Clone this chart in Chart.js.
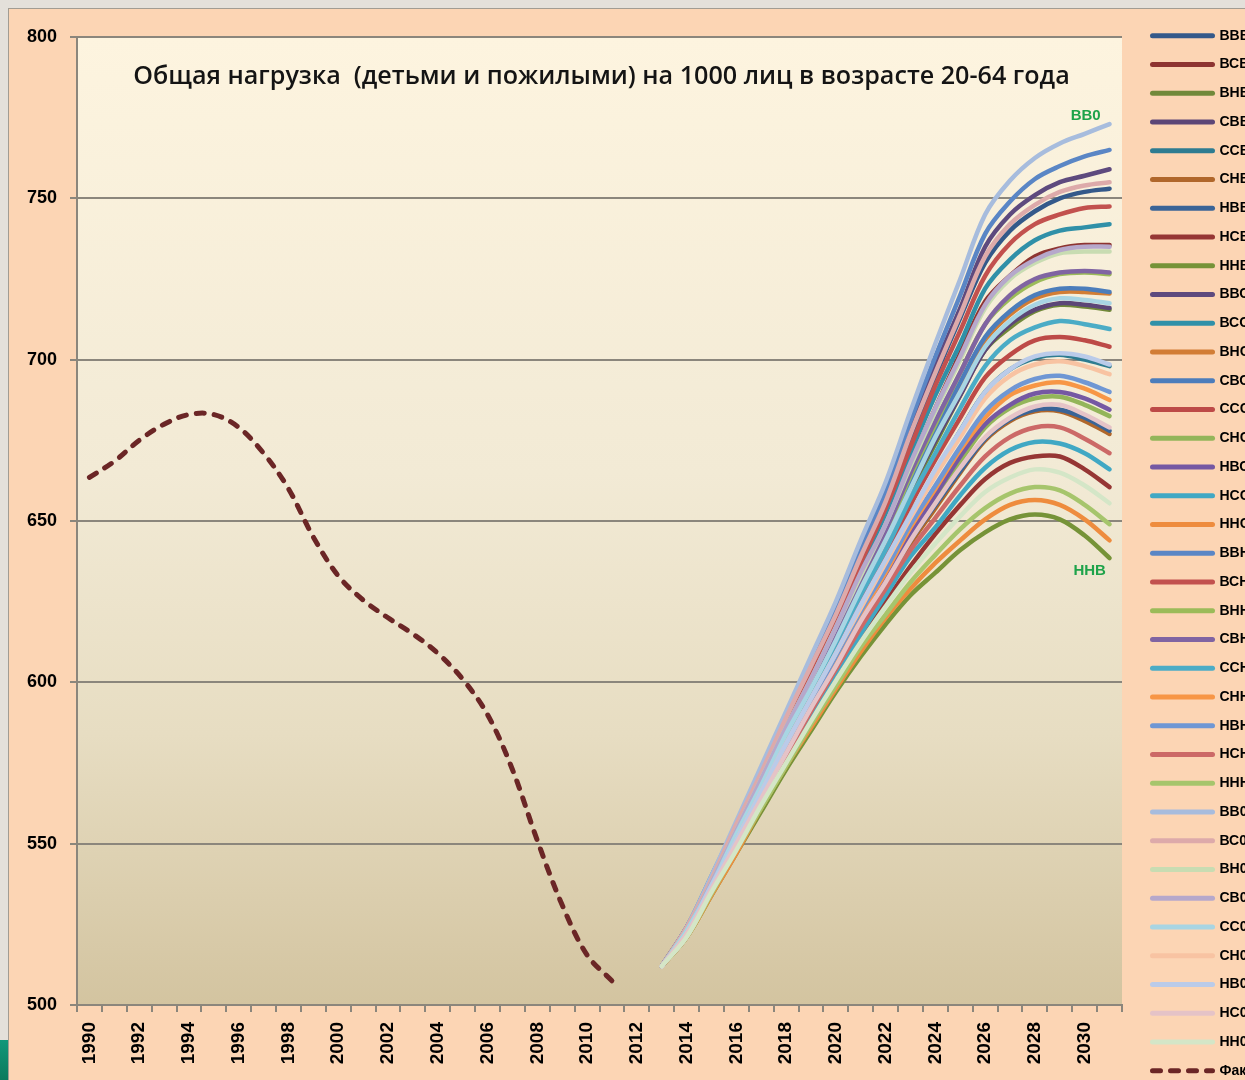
<!DOCTYPE html>
<html><head><meta charset="utf-8">
<script src="https://cdn.jsdelivr.net/npm/chart.js@4"></script>
<style>
html,body{margin:0;padding:0;width:1245px;height:1080px;overflow:hidden;background:#E4E0DA;}
#frame{position:absolute;left:8px;top:8px;width:1300px;height:1100px;background:#FCD5B4;border-left:1px solid #A29C92;border-top:1px solid #A29C92;}
#strip{position:absolute;left:0;top:1040px;width:8px;height:40px;background:linear-gradient(#12977A,#0B7A5C);}
canvas{display:block;}
</style></head>
<body><div id="frame"><canvas id="c" width="1300" height="1100"></canvas></div><div id="strip"></div>
<script>
const years = ['1990','1991','1992','1993','1994','1995','1996','1997','1998','1999','2000','2001','2002','2003','2004','2005','2006','2007','2008','2009','2010','2011','2012','2013','2014','2015','2016','2017','2018','2019','2020','2021','2022','2023','2024','2025','2026','2027','2028','2029','2030','2031'];
const yTicks = {min: 500, max: 800, step: 50};
const titleText = 'Общая нагрузка  (детьми и пожилыми) на 1000 лиц в возрасте 20-64 года';

// Факт, 1990-2011
const factName = 'Факт';
const fact = [663.5,668.5,675,680,683,683,679,671,660,645,633,625.5,620,615,609,601,590,573,551,531,515.5,507.5];

// Прогноз, 2013-2031
const projStartYear = '2013';
const vvv = [512,524,539,556,572,588,605,621,639,656,676,695,713,730,740,746,750,752,753];
const vsv = [512,523,538,554,570,586,602,617,634,650,668,685,702,718,726,732,734.5,735.5,735.5];
const vnv = [512,522,537,552,568,583,598,613,628,643,659,674,689,703,710,715,717,716.5,715.5];
const svv = [512,523,537,553,568,583,598,613,629,643,660,675,689,703,711,715.5,717.5,717,716];
const ssv = [512,522,536,551,566,580,595,609,623,637,652,665,678,690,697,700.5,701.5,700,698];
const snv = [512,522,535,550,564,578,591,605,618,630,643,654,665,675,681,684,684,681,677];
const nvv = [512,522,536,550,564,578,592,605,619,631,644,655,665.5,675.5,681.5,684.5,684.5,682,678];
const nsv = [512,521,535,549,562,576,589,602,614,625,636,646,655,663,668,670,670,666,660.5];
const nnv = [512,521,534,547,560,573,585,597,608,618,627,634,641,646.5,650.5,652,650.5,645.5,638.5];
const vvs = [512,524,539,556,573,589,606,622,640,657,678,698,716,735,745,751,755,757,759];
const vss = [512,523,539,555,571,587,603,619,636,652,671,689,705,722,731,737,740,741,742];
const vns = [512,523,537,553,568,584,599,614,630,644,661,677,692,706,714,719,721,721,720.5];
const svs = [512,523,538,553,569,584,599,614,630,645,662,678,693,707,715,720,722,722,721];
const sss = [512,522,537,552,567,582,596,611,625,639,655,669,682,694.5,701.5,706,707,706,704];
const sns = [512,522,536,550,565,579,592,606,620,632,646,657,668.5,679,685,688,688.5,686,682.5];
const nvs = [512,522,536,550,565,579,593,607,620,633,646,658,670,680,686,689.5,690,688,684.5];
const nss = [512,522,535,549,563,577,590,603,615,627,639,648,658,666.5,672,674.5,674,671,666];
const nns = [512,521,534,547,561,574,586,598,609.5,620,629,637,644,650.5,655,656.5,655,650.5,644];
const vvn = [512,524,540,556,573,590,607,623,642,659,681,701,720,739,749,756,760,763,765];
const vsn = [512,523,539,555,571,588,604,620,637,654,673,692,709,726,736,742,745,747,747.5];
const vnn = [512,523,538,553,569,584,600,615,631,646,664,680,696,711,719,724,726.5,727,726.5];
const svn = [512,523,538,554,569,585,600,615,632,647,665,681,696,711,720,725,727,727.5,727];
const ssn = [512,523,537,552,567,582,597,612,627,641,657,671,685,698,706,710,712,711,709.5];
const snn = [512,522,536,551,565,580,593,607,621,634,648,660,672,682,689,692,693,691,687.5];
const nvn = [512,522,536,551,565,580,594,608,622,635,649,661,673,684,690.5,694,695,693,690];
const nsn = [512,522,535,549,563,577,591,604,617,629,641,651,661,670,676,679,679,675.5,671];
const nnn = [512,521,534.5,548,561,574,587,599,611,621,631,639.5,647.5,654,658.5,660.5,659.5,655,649];
const vv0 = [512,524,540,557,574,591,608,625,644,662,684,705,725,745,755.5,762.5,767,770,773];
const vs0 = [512,524,539,556,572,589,605,621,639,656,677,696,714,732,742,748,752,754,755];
const vn0 = [512,523,538,554,570,586,601,617,633,649,667,684,700,716,725,730,733,733.5,733.5];
const sv0 = [512,523,538,554,570,586,601,617,634,649,668,685,701,717,726,731,734,735,735];
const ss0 = [512,523,537,553,568,584,598,613,629,644,660,676,690,704,712,717,719,718.5,717.5];
const sn0 = [512,522,536,551,566,581,595,609,623,637,651,664,676,688,695,698.5,699.5,698,695.5];
const nv0 = [512,522,537,551,566,581,595,609,624,638,652,666,678,690,697,701,702,701,698.5];
const ns0 = [512,522,536,550,564,578,592,605,619,631,644,655.5,666.5,676,682,685.5,686,683,679];
const nn0 = [512,521,535,548,562,575,588,600.5,612.5,623.5,634,643,651.5,659,663.5,666,665,661,655.5];

const seriesNames = ['ВВВ','ВСВ','ВНВ','СВВ','ССВ','СНВ','НВВ','НСВ','ННВ',
                     'ВВС','ВСС','ВНС','СВС','ССС','СНС','НВС','НСС','ННС',
                     'ВВН','ВСН','ВНН','СВН','ССН','СНН','НВН','НСН','ННН',
                     'ВВ0','ВС0','ВН0','СВ0','СС0','СН0','НВ0','НС0','НН0'];
const seriesValues = [vvv,vsv,vnv,svv,ssv,snv,nvv,nsv,nnv,
                      vvs,vss,vns,svs,sss,sns,nvs,nss,nns,
                      vvn,vsn,vnn,svn,ssn,snn,nvn,nsn,nnn,
                      vv0,vs0,vn0,sv0,ss0,sn0,nv0,ns0,nn0];
const seriesColors = ['#34598A','#8E3431','#71893A','#5C4677','#2E7C91','#B0672B','#3A6497','#963634','#769338',
                      '#5E4A7E','#3090A8','#D27D35','#4C7DBB','#BD4A47','#93B55A','#7558A3','#40A8C4','#EE8C3E',
                      '#5A86C5','#C2514E','#9BBB59','#8064A2','#4BACC6','#F79646','#6F97D4','#CC6967','#A6C56C',
                      '#A7BCDD','#DDAAAA','#C8DCB2','#B6A8CB','#A8D5E3','#F8C3A2','#BACBE9','#E5C3C7','#D4E6C7'];
const factColor = '#6B2626';
const notes = [{text:'ВВ0', year:'2030', value:775.5, dx:1}, {text:'ННВ', year:'2030', value:634.5, dx:5}];

const gridColor = '#8B867C';
const startIdx = years.indexOf(projStartYear);

const datasets = seriesNames.map((name, k) => ({
  label: name,
  data: years.map((y, i) => i < startIdx ? null : seriesValues[k][i - startIdx]),
  borderColor: seriesColors[k], backgroundColor: seriesColors[k],
  borderWidth: 4.5, pointRadius: 0, pointHoverRadius: 0, tension: 0.35,
  borderCapStyle: 'round', borderJoinStyle: 'round', fill: false, order: -k
}));
datasets.push({
  label: factName,
  data: years.map((y, i) => i < fact.length ? fact[i] : null),
  borderColor: factColor, backgroundColor: factColor,
  borderWidth: 5, borderDash: [8, 10], borderCapStyle: 'round',
  pointRadius: 0, pointHoverRadius: 0, tension: 0.35, fill: false, order: -100
});

// legend geometry
const legendFont = {family: '"Liberation Sans"', size: 14, weight: 'bold'};
const mctx = document.createElement('canvas').getContext('2d');
mctx.font = 'bold 14px "Liberation Sans"';
const maxTextW = Math.max(...seriesNames.concat([factName]).map(t => mctx.measureText(t).width));
const legendPad = 14.75, legendLine = 60;
const legendLeft = 1128.75;
const legendW = legendPad + legendLine + 7 + maxTextW + 10;
const padRight = 1300 - legendLeft - legendW;

const bgPlugin = {
  id: 'bg',
  beforeDraw(chart) {
    const {ctx, chartArea: a} = chart;
    const g = ctx.createLinearGradient(0, a.top, 0, a.bottom);
    g.addColorStop(0, '#FDF4DF');
    g.addColorStop(0.45, '#F2EAD5');
    g.addColorStop(0.72, '#E7DDC2');
    g.addColorStop(1, '#D3C4A0');
    ctx.save();
    ctx.fillStyle = g;
    ctx.fillRect(a.left, a.top, a.right - a.left, a.bottom - a.top);
    ctx.restore();
  }
};
const textPlugin = {
  id: 'texts',
  afterDraw(chart) {
    const {ctx, chartArea: a, scales} = chart;
    ctx.save();
    ctx.font = '600 24px "Open Sans"';
    const w = ctx.measureText(titleText).width;
    const size = 24 * 937 / w;
    ctx.font = '600 ' + size.toFixed(2) + 'px "Open Sans"';
    ctx.fillStyle = '#141414';
    ctx.textAlign = 'center';
    ctx.textBaseline = 'middle';
    ctx.fillText(titleText, (a.left + a.right) / 2 + 2, a.top + 40);
    ctx.font = 'bold 15px "Liberation Sans"';
    ctx.fillStyle = '#1EA34A';
    notes.forEach(n => {
      ctx.fillText(n.text, scales.x.getPixelForValue(years.indexOf(n.year)) + n.dx, scales.y.getPixelForValue(n.value));
    });
    ctx.restore();
  }
};

new Chart(document.getElementById('c'), {
  type: 'line',
  data: {labels: years, datasets},
  options: {
    responsive: false, animation: false, devicePixelRatio: 1,
    layout: {padding: {left: 18, top: 5, bottom: 5, right: padRight}},
    interaction: {mode: null},
    plugins: {
      title: {display: false},
      tooltip: {enabled: false},
      legend: {
        position: 'right', align: 'start',
        labels: {
          usePointStyle: true, pointStyle: 'line', pointStyleWidth: legendLine,
          padding: legendPad, color: '#000', font: legendFont,
          generateLabels(chart) {
            const items = Chart.defaults.plugins.legend.labels.generateLabels(chart);
            items.forEach(it => {
              const ds = chart.data.datasets[it.datasetIndex];
              it.lineWidth = 5; it.lineDash = ds.borderDash || []; it.lineCap = 'round';
              it.strokeStyle = ds.borderColor; it.pointStyle = 'line';
            });
            items.sort((p, q) => p.datasetIndex - q.datasetIndex);
            return items;
          }
        }
      }
    },
    scales: {
      x: {
        type: 'category', position: 'bottom', offset: true,
        grid: {offset: true, drawOnChartArea: false, drawTicks: true, tickLength: 7, color: gridColor, lineWidth: 2},
        border: {display: true, color: gridColor, width: 2},
        ticks: {autoSkip: false, maxRotation: 90, minRotation: 90, padding: 10, color: '#000',
                font: {family: '"Liberation Sans"', size: 19, weight: 'bold'},
                callback: (v, i) => (i % 2 === 0 ? years[i] : '')},
        afterFit: s => { s.height = 99; }
      },
      y: {
        type: 'linear', position: 'left', min: yTicks.min, max: yTicks.max,
        ticks: {stepSize: yTicks.step, padding: 13, color: '#000', font: {family: '"Liberation Sans"', size: 18, weight: 'bold'}},
        grid: {color: gridColor, lineWidth: 2, tickLength: 7},
        border: {display: true, color: gridColor, width: 2},
        afterFit: s => { s.width = 50; }
      },
      xTop: {
        type: 'category', position: 'top', display: true,
        grid: {display: false}, border: {display: false}, ticks: {display: false},
        afterFit: s => { s.height = 23; }
      },
      yR: {
        type: 'linear', position: 'right', display: true, min: yTicks.min, max: yTicks.max,
        grid: {display: false}, border: {display: false}, ticks: {display: false},
        afterFit: s => { s.width = 15.75; }
      }
    }
  },
  plugins: [bgPlugin, textPlugin]
});
</script>
</body></html>
